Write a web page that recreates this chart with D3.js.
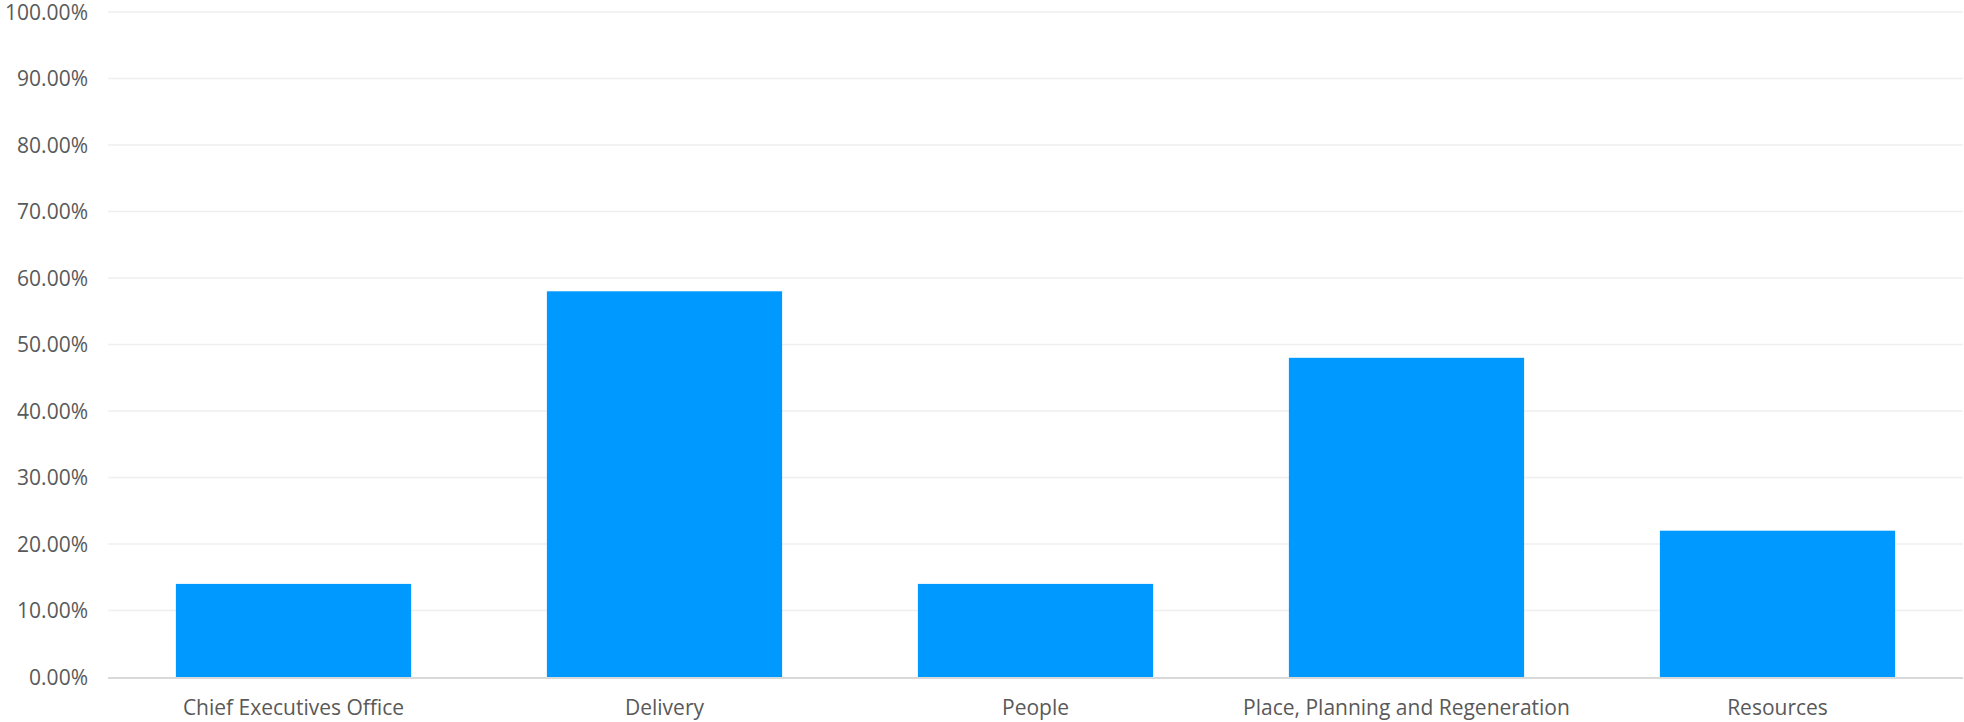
<!DOCTYPE html>
<html>
<head>
<meta charset="utf-8">
<script src="https://cdn.jsdelivr.net/npm/d3@7"></script>
<style>
  body { margin: 0; background: #fff; }
  text { font-family: "Open Sans", sans-serif; fill: #595959; }
</style>
</head>
<body>
<div id="chart"></div>
<script>
// data
let categories = ["Chief Executives Office", "Delivery", "People", "Place, Planning and Regeneration", "Resources"];
let values = [0.14, 0.58, 0.14, 0.48, 0.22];
let yTicks = [0, 0.1, 0.2, 0.3, 0.4, 0.5, 0.6, 0.7, 0.8, 0.9, 1.0];

// dimensions
let width = 1964;
let height = 722;
let margin = { top: 12, right: 1, bottom: 45, left: 108 };

let svg = d3.select("#chart")
    .append("svg")
    .attr("width", width)
    .attr("height", height);

let x = d3.scaleBand()
    .domain(categories)
    .range([margin.left, width - margin.right])
    .paddingInner(0.366)
    .paddingOuter(0.183);

let y = d3.scaleLinear()
    .domain([0, 1])
    .range([height - margin.bottom, margin.top]);

// gridlines
svg.append("g")
    .selectAll("line")
    .data(yTicks.slice(1))
    .join("line")
    .attr("x1", margin.left)
    .attr("x2", width - margin.right)
    .attr("y1", d => y(d))
    .attr("y2", d => y(d))
    .attr("stroke", "#efefef")
    .attr("stroke-width", 1.5);

// y labels
svg.append("g")
    .selectAll("text")
    .data(yTicks)
    .join("text")
    .attr("x", 88)
    .attr("y", d => y(d))
    .attr("dy", "0.36em")
    .attr("text-anchor", "end")
    .style("font-size", "21px")
    .text(d => d3.format(".2%")(d));

// bars
svg.append("g")
    .selectAll("rect")
    .data(values)
    .join("rect")
    .attr("x", (d, i) => x(categories[i]))
    .attr("width", x.bandwidth())
    .attr("y", d => y(d))
    .attr("height", d => y(0) - y(d))
    .attr("fill", "#0099ff");

// baseline
svg.append("line")
    .attr("x1", margin.left)
    .attr("x2", width - margin.right)
    .attr("y1", y(0) + 1)
    .attr("y2", y(0) + 1)
    .attr("stroke", "#d9d9d9")
    .attr("stroke-width", 2);

// category labels
svg.append("g")
    .selectAll("text")
    .data(categories)
    .join("text")
    .attr("x", d => x(d) + x.bandwidth() / 2)
    .attr("y", 715)
    .attr("text-anchor", "middle")
    .style("font-size", "21px")
    .text(d => d);
</script>
</body>
</html>
